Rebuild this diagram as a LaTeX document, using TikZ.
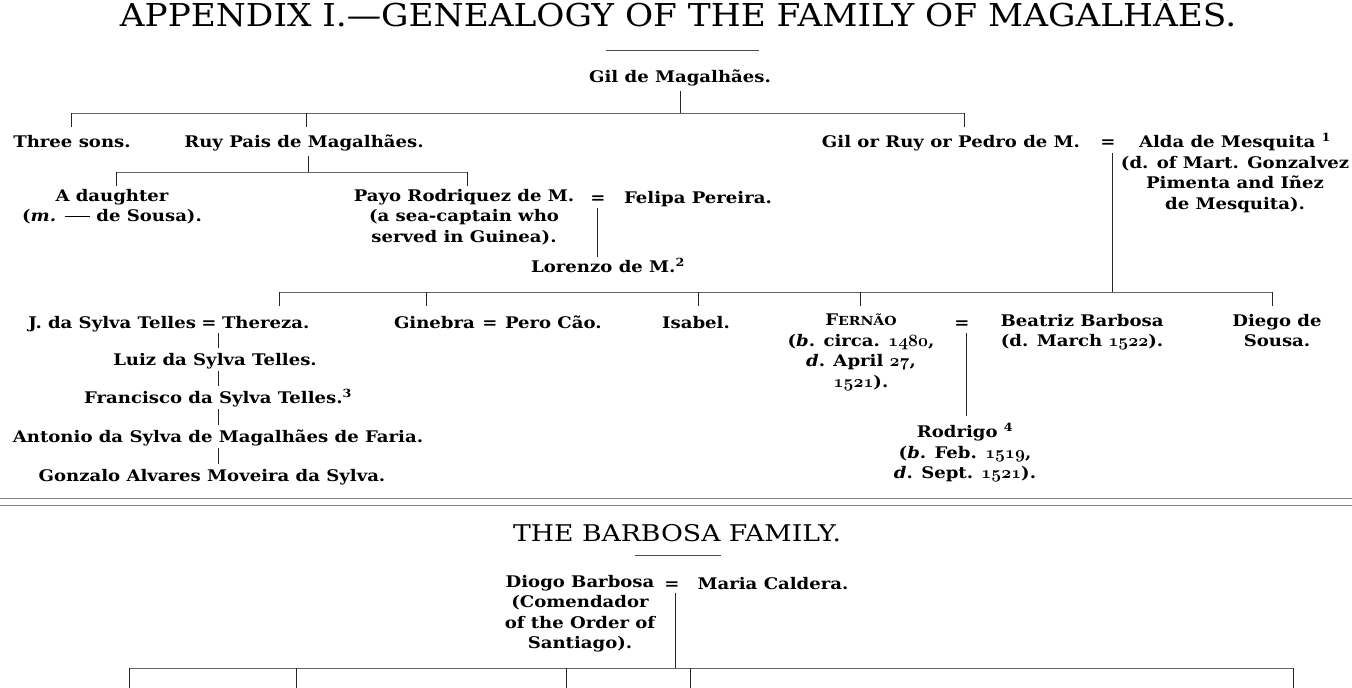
\documentclass[tikz,border=0pt]{standalone}
\usepackage{fontspec}
\setmainfont{DejaVu Serif}[UprightFont={* Bold}, ItalicFont={* Bold Italic}, FakeStretch=1.13]
\newfontfamily\titlefont{DejaVu Serif}[FakeStretch=1.09]
\newfontfamily\headfont{DejaVu Serif}[FakeStretch=1.16]
\newcommand\bodyfont{\fontsize{16}{20.5}\selectfont}
\newcommand\fnm[1]{\textsuperscript{#1}}
\newcommand\osf[1]{{\usefont{OML}{cmm}{b}{it}\fontsize{17}{20.5}\selectfont #1}}
\begin{document}
\begin{tikzpicture}[x=1pt,y=-1pt,
  tx/.style={inner sep=0pt, outer sep=0pt, align=center, font=\bodyfont, anchor=north,
    execute at begin node={\rule{0pt}{14pt}}},
  ln/.style={line width=0.9pt, black!85},
  hl/.style={line width=0.9pt, black!60},
  ttl/.style={inner sep=0pt, anchor=base, font=\titlefont\fontsize{31.5}{36}\selectfont},
  hd/.style={inner sep=0pt, anchor=base, font=\headfont\fontsize{23}{28}\selectfont}]
\useasboundingbox (0,0) rectangle (1352,688);

% ---------- title ----------
\node[ttl] (title) at (678,27) {APPENDIX I.—GENEALOGY OF THE FAMILY OF MAGALHÃES.};
\coordinate (ra) at (606,50); \coordinate (rb) at (759,50);
\draw[line width=1pt, black!70] (ra) -- (rb);

% ---------- generation 0 / 1 ----------
\node[tx] (gil) at (680,68) {Gil de Magalhães.};
\coordinate (g0) at (680,91);
\coordinate (j1) at (680,113);
\coordinate (h1l) at (71,113);
\coordinate (h1m) at (306,113);
\coordinate (h1r) at (964,113);
\draw[ln] (g0) -- (j1);
\draw[hl] (h1l) -- (h1r);
\draw[ln] (h1l) -- +(0,14);
\draw[ln] (h1m) -- +(0,14);
\draw[ln] (h1r) -- +(0,14);

\node[tx] (three) at (72,133) {Three sons.};
\node[tx] (ruy) at (304,133) {Ruy Pais de Magalhães.};
\node[tx] (gor) at (951,133) {Gil or Ruy or Pedro de M.};
\node[tx] (eqa) at (1108,133) {=};
\node[tx] (alda) at (1235,133) {Alda de Mesquita \fnm{1}\\(d. of Mart. Gonzalvez\\Pimenta and Iñez\\de Mesquita).};

% ---------- children of Ruy ----------
\coordinate (r0) at (308,156);
\coordinate (j2) at (308,172);
\coordinate (h2l) at (116,172);
\coordinate (h2r) at (467,172);
\draw[ln] (r0) -- (j2);
\draw[hl] (h2l) -- (h2r);
\draw[ln] (h2l) -- +(0,14);
\draw[ln] (h2r) -- +(0,14);

\node[tx] (daughter) at (112,189) {A daughter\\(\textit{m.} \rule[0.3em]{1.6em}{0.6pt} de Sousa).};
\node[tx] (payo) at (464,189) {Payo Rodriquez de M.\\(a sea-captain who\\served in Guinea).};
\node[tx] (eqb) at (598,189) {=};
\node[tx] (felipa) at (698,189) {Felipa Pereira.};
\coordinate (p0) at (597,208);
\coordinate (p1) at (597,257);
\draw[ln] (p0) -- (p1);
\node[tx] (lorenzo) at (608,258) {Lorenzo de M.\fnm{2}};

% ---------- children of Gil or Ruy or Pedro ----------
\coordinate (a0) at (1112,153);
\coordinate (j3) at (1112,292);
\draw[ln] (a0) -- (j3);
\coordinate (h3a) at (279,292);
\coordinate (h3b) at (426,292);
\coordinate (h3c) at (698,292);
\coordinate (h3d) at (860,292);
\coordinate (h3e) at (1272,292);
\draw[hl] (h3a) -- (h3e);
\foreach \c in {h3a,h3b,h3c,h3d,h3e} \draw[ln] (\c) -- +(0,14);

\node[tx, anchor=north east] (jst) at (196,314) {J. da Sylva Telles};
\node[tx] (eqc) at (209,314) {=};
\node[tx, anchor=north west] (thereza) at (222,314) {Thereza.};
\node[tx, anchor=north west] (ginebra) at (394,314) {Ginebra};
\node[tx] (eqd) at (490,314) {=};
\node[tx, anchor=north west] (pero) at (505,314) {Pero Cão.};
\node[tx] (isabel) at (696,314) {Isabel.};
\node[tx] (fernao) at (861,314) {F{\fontsize{12.5}{20.5}\selectfont ERNÃO}\\(\textit{b}. circa. \osf{1480},\\\textit{d}. April \osf{27},\\\osf{1521}).};
\node[tx] (eqe) at (962,314) {=};
\node[tx] (beatriz) at (1082,314) {Beatriz Barbosa\\(d. March \osf{1522}).};
\node[tx] (diego) at (1277,314) {Diego de\\Sousa.};

\coordinate (f0) at (966,333);
\coordinate (f1) at (966,416);
\draw[ln] (f0) -- (f1);
\node[tx] (rodrigo) at (965,423) {Rodrigo \fnm{4}\\(\textit{b}. Feb. \osf{1519},\\\textit{d}. Sept. \osf{1521}).};

% ---------- Sylva line ----------
\node[tx] (luiz) at (215,351) {Luiz da Sylva Telles.};
\node[tx] (francisco) at (218,389) {Francisco da Sylva Telles.\fnm{3}};
\node[tx] (antonio) at (218,428) {Antonio da Sylva de Magalhães de Faria.};
\node[tx] (gonzalo) at (212,467) {Gonzalo Alvares Moveira da Sylva.};
\coordinate (s0) at (218,333); \coordinate (s1) at (218,348);
\coordinate (s2) at (218,371); \coordinate (s3) at (218,386);
\coordinate (s4) at (218,409); \coordinate (s5) at (218,425);
\coordinate (s6) at (218,448); \coordinate (s7) at (218,464);
\draw[ln] (s0) -- (s1);
\draw[ln] (s2) -- (s3);
\draw[ln] (s4) -- (s5);
\draw[ln] (s6) -- (s7);

% ---------- separator ----------
\coordinate (d1l) at (0,498); \coordinate (d1r) at (1352,498);
\coordinate (d2l) at (0,505); \coordinate (d2r) at (1352,505);
\draw[hl, black!50] (d1l) -- (d1r);
\draw[hl, black!50] (d2l) -- (d2r);

% ---------- Barbosa family ----------
\node[hd] (head) at (677,541) {THE BARBOSA FAMILY.};
\coordinate (rc) at (635,555); \coordinate (rd) at (721,555);
\draw[line width=1pt, black!70] (rc) -- (rd);

\node[tx] (diogo) at (580,575) {Diogo Barbosa\\(Comendador\\of the Order of\\Santiago).};
\node[tx] (eqf) at (672,575) {=};
\node[tx] (maria) at (773,575) {Maria Caldera.};
\coordinate (b0) at (675,593);
\coordinate (j4) at (675,668);
\draw[ln] (b0) -- (j4);
\coordinate (h4a) at (129,668);
\coordinate (h4b) at (296,668);
\coordinate (h4c) at (566,668);
\coordinate (h4d) at (690,668);
\coordinate (h4e) at (1293,668);
\draw[hl] (h4a) -- (h4e);
\foreach \c in {h4a,h4b,h4c,h4d,h4e} \draw[ln] (\c) -- +(0,22);
\end{tikzpicture}
\end{document}
